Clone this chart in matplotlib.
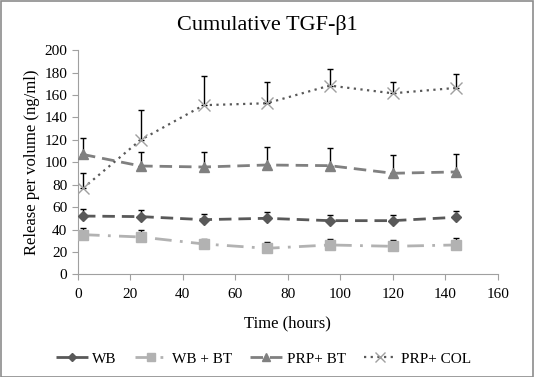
import matplotlib
matplotlib.use("Agg")
import matplotlib.pyplot as plt
from matplotlib.patches import Rectangle

hours = [2, 24, 48, 72, 96, 120, 144]
series_names = ["WB", "WB + BT", "PRP+ BT", "PRP+ COL"]
wb = [52.0, 51.5, 48.8, 50.0, 47.9, 47.9, 50.9]
wb_err = [6.3, 6.2, 5.4, 5.4, 5.4, 5.4, 5.9]
wbbt = [35.4, 33.3, 27.1, 23.2, 26.2, 25.0, 26.2]
wbbt_err = [6.3, 6.3, 4.7, 5.4, 5.6, 5.7, 6.2]
prpbt = [107.0, 96.7, 95.8, 97.6, 97.0, 90.2, 91.4]
prpbt_err = [14.4, 12.8, 13.7, 15.8, 16.0, 16.1, 15.7]
prpcol = [76.8, 120.0, 151.0, 152.7, 168.5, 161.6, 166.4]
prpcol_err = [13.7, 26.4, 26.4, 18.7, 15.1, 9.8, 12.5]
x_ticks = [0, 20, 40, 60, 80, 100, 120, 140, 160]
y_ticks = [0, 20, 40, 60, 80, 100, 120, 140, 160, 180, 200]

plt.rcParams['font.family'] = ['Liberation Serif', 'DejaVu Serif']

fig = plt.figure(figsize=(5.34, 3.77), dpi=100)
ax = fig.add_axes([0.1455, 0.2724, 0.932 - 0.1455, 0.8666 - 0.2724])

styles = [
    dict(color="#595959", ls=(0, (4.5, 2.5)), marker="D", ms=5, mfc="#595959", mec="#595959"),
    dict(color="#b2b2b2", ls=(0, (6, 3, 1, 3)), marker="s", ms=7, mfc="#b2b2b2", mec="#b2b2b2"),
    dict(color="#808080", ls=(0, (4.5, 2.5)), marker="^", ms=7, mfc="#808080", mec="#808080"),
    dict(color="#595959", ls=(0, (1, 2)), marker="x", ms=8, mfc="#a0a0a0", mec="#a0a0a0", mew=1.0),
]
data = [(wb, wb_err), (wbbt, wbbt_err), (prpbt, prpbt_err), (prpcol, prpcol_err)]

for name, (vals, errs), st in zip(series_names, data, styles):
    ax.errorbar(hours, vals, yerr=[[0]*len(errs), errs], fmt='none', ecolor='black',
                elinewidth=1.0, capsize=2.5, capthick=1.0, zorder=3)
    ax.plot(hours, vals, label=name, lw=2 if name != "PRP+ COL" else 1.6, zorder=4, **st)

ax.set_xlim(0, 160)
ax.set_ylim(0, 200)
ax.set_xticks(x_ticks)
ax.set_yticks(y_ticks)
ax.tick_params(axis='both', labelsize=11, colors='#a0a0a0', labelcolor='black', length=4, width=0.8)
ax.tick_params(axis='x', pad=6)
for s in ['top', 'right']:
    ax.spines[s].set_visible(False)
for s in ['left', 'bottom']:
    ax.spines[s].set_color('#a0a0a0')
    ax.spines[s].set_linewidth(0.8)

ax.set_xlabel("Time (hours)", fontsize=12, labelpad=10)
ax.set_ylabel("Release per volume (ng/ml)", fontsize=12, labelpad=3)
fig.text(0.5, 0.935, "Cumulative TGF-β1", ha='center', va='center', fontsize=16)

fig.legend(loc='center', bbox_to_anchor=(0.493, 0.048), ncol=4, frameon=False, fontsize=11,
           handlelength=2.1, columnspacing=1.2, handletextpad=0.3, markerscale=0.85)

fig.patches.append(Rectangle((0.001, 0.001), 0.997, 0.996, transform=fig.transFigure,
                             fill=False, edgecolor='#8c8c8c', lw=1.2))
fig.savefig("out.png", dpi=100, facecolor='white')
